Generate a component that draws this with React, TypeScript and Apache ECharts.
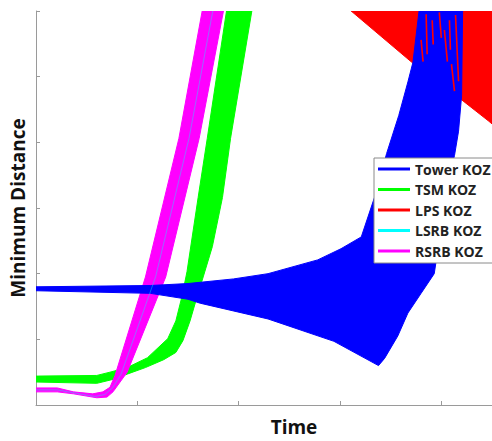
import React, { useEffect, useRef } from "react";
import * as echarts from "echarts";

// Series names and colours (legend order)
const seriesNames = ["Tower KOZ", "TSM KOZ", "LPS KOZ", "LSRB KOZ", "RSRB KOZ"];
const seriesColors = ["#0000ff", "#00ff00", "#ff0000", "#00ffff", "#ff00ff"];

// Axis extents (no tick labels shown in the original; the view is cropped at x = 4.5)
const xRange = [0, 4.5];
const yRange = [0, 6];

// Envelope outlines of each bundle of trajectories: [time, minimum distance]
const towerBand: number[][] = [
  [0, 1.8], [1.13, 1.82], [1.5, 1.85], [1.95, 1.92], [2.29, 2.0], [2.78, 2.21],
  [3.01, 2.38], [3.21, 2.56], [3.34, 3.16], [3.46, 3.83], [3.58, 4.41], [3.67, 4.92],
  [3.72, 5.22], [3.78, 6.0],
  [4.21, 6.0], [4.2, 4.71], [4.17, 4.17], [4.13, 3.8], [4.1, 3.61], [3.97, 2.41],
  [3.93, 2.0], [3.8, 1.7], [3.67, 1.4], [3.57, 1.05], [3.44, 0.71], [3.38, 0.6],
  [2.94, 0.97], [2.29, 1.31], [1.62, 1.55], [1.5, 1.61], [1.13, 1.7], [0, 1.74],
];

const tsmBand: number[][] = [
  [0, 0.44], [0.6, 0.45], [0.73, 0.5], [0.9, 0.57], [1.1, 0.72], [1.3, 1.01],
  [1.38, 1.28], [1.44, 1.65], [1.49, 2.03], [1.6, 3.16], [1.69, 4.06], [1.88, 6.0],
  [2.13, 6.0], [1.92, 4.06], [1.84, 3.16], [1.74, 2.41], [1.65, 1.95], [1.59, 1.65],
  [1.52, 1.28], [1.45, 0.98], [1.38, 0.8], [1.26, 0.69], [1.08, 0.57], [0.9, 0.47],
  [0.76, 0.39], [0.6, 0.33], [0, 0.35],
];

const lpsBand: number[][] = [
  [3.11, 6.0], [3.7, 5.23], [4.0, 4.89], [4.47, 4.32], [4.5, 4.28], [4.5, 6.0],
];

// LPS trajectories visible on top of the Tower bundle: [x1, y1, x2, y2]
const lpsStreaks: number[][] = [
  [3.85, 5.95, 3.86, 5.34],
  [3.91, 5.86, 3.92, 5.49],
  [3.98, 5.98, 4.0, 5.59],
  [4.03, 5.71, 4.06, 5.23],
  [4.08, 5.86, 4.09, 5.41],
  [4.14, 5.94, 4.17, 4.93],
  [4.1, 5.19, 4.13, 4.78],
  [3.8, 5.56, 3.82, 5.23],
];

const rsrbBand: number[][] = [
  [0, 0.26], [0.21, 0.26], [0.37, 0.2], [0.56, 0.17], [0.66, 0.2], [0.73, 0.27],
  [0.78, 0.45], [1.08, 1.95], [1.41, 4.06], [1.64, 6.0],
  [1.85, 6.0], [1.61, 4.06], [1.28, 1.95], [0.9, 0.5], [0.83, 0.35], [0.76, 0.2],
  [0.7, 0.12], [0.6, 0.11], [0.37, 0.17], [0.21, 0.2], [0, 0.2],
];

const lsrbLine: number[][] = [
  [0, 0.23], [0.21, 0.23], [0.37, 0.185], [0.58, 0.13], [0.68, 0.16], [0.76, 0.27],
  [0.84, 0.47], [1.18, 1.95], [1.51, 4.06], [1.745, 6.0],
];

function bandSeries(name: string, band: number[][], color: string) {
  return {
    type: "custom",
    name,
    data: band,
    clip: true,
    encode: { x: 0, y: 1 },
    itemStyle: { color },
    silent: true,
    renderItem: (params: any, api: any) => {
      if (params.dataIndex !== 0) return null;
      const pts = band.map((p) => api.coord(p));
      return {
        type: "polygon",
        shape: { points: pts },
        style: { fill: color, stroke: color, lineWidth: 1 },
      };
    },
  };
}

function streakSeries(name: string, segs: number[][], color: string) {
  return {
    type: "custom",
    name,
    data: segs,
    clip: true,
    encode: { x: [0, 2], y: [1, 3] },
    itemStyle: { color },
    silent: true,
    renderItem: (params: any, api: any) => {
      const a = api.coord([api.value(0), api.value(1)]);
      const b = api.coord([api.value(2), api.value(3)]);
      return {
        type: "line",
        shape: { x1: a[0], y1: a[1], x2: b[0], y2: b[1] },
        style: { stroke: color, lineWidth: 1.6 },
      };
    },
  };
}

export default function App() {
  const ref = useRef<HTMLDivElement>(null);

  useEffect(() => {
    if (!ref.current) return;
    const chart = echarts.init(ref.current, undefined, { renderer: "svg" });
    const axisGray = "#9a9a9a";
    chart.setOption({
      animation: false,
      backgroundColor: "#ffffff",
      grid: { left: 36, right: 0, top: 11, bottom: 31, containLabel: false },
      xAxis: {
        type: "value",
        min: xRange[0],
        max: xRange[1],
        interval: 1,
        name: "Time",
        nameLocation: "middle",
        nameGap: 12,
        nameTextStyle: {
          fontFamily: "Open Sans",
          fontWeight: "bold",
          fontSize: 19,
          color: "#111",
          padding: [0, 0, 0, 60],
        },
        axisLine: { show: true, lineStyle: { color: axisGray, width: 1 } },
        axisTick: { show: true, inside: true, length: 4, lineStyle: { color: axisGray } },
        axisLabel: { show: false },
        splitLine: { show: false },
      },
      yAxis: {
        type: "value",
        min: yRange[0],
        max: yRange[1],
        interval: 1,
        name: "Minimum Distance",
        nameLocation: "middle",
        nameGap: 9,
        nameTextStyle: {
          fontFamily: "Open Sans",
          fontWeight: "bold",
          fontSize: 19,
          color: "#111",
        },
        axisLine: { show: true, lineStyle: { color: axisGray, width: 1 } },
        axisTick: { show: true, inside: true, length: 4, lineStyle: { color: axisGray } },
        axisLabel: { show: false },
        splitLine: { show: false },
      },
      legend: {
        orient: "vertical",
        left: 374,
        top: 158,
        icon: "rect",
        itemWidth: 32,
        itemHeight: 3,
        itemGap: 4.5,
        padding: [3, 3, 4, 4],
        backgroundColor: "#ffffff",
        borderColor: "#8a8a8a",
        borderWidth: 1,
        selectedMode: false,
        textStyle: {
          fontFamily: "Open Sans",
          fontWeight: "bold",
          fontSize: 14,
          lineHeight: 16,
          color: "#222",
        },
        data: seriesNames.map((n, i) => ({
          name: n,
          itemStyle: { color: seriesColors[i], opacity: 1 },
        })),
      },
      series: [
        bandSeries(seriesNames[2], lpsBand, seriesColors[2]),
        bandSeries(seriesNames[1], tsmBand, seriesColors[1]),
        bandSeries(seriesNames[4], rsrbBand, seriesColors[4]),
        {
          type: "line",
          name: seriesNames[3],
          data: lsrbLine,
          showSymbol: false,
          symbol: "none",
          silent: true,
          itemStyle: { color: seriesColors[3] },
          lineStyle: { color: seriesColors[3], width: 1, opacity: 0.4 },
        },
        bandSeries(seriesNames[0], towerBand, seriesColors[0]),
        streakSeries(seriesNames[2], lpsStreaks, seriesColors[2]),
      ],
    });
    return () => chart.dispose();
  }, []);

  return (
    <div
      ref={ref}
      style={{ position: "fixed", left: 0, top: 0, width: 492, height: 441, overflow: "hidden" }}
    />
  );
}
